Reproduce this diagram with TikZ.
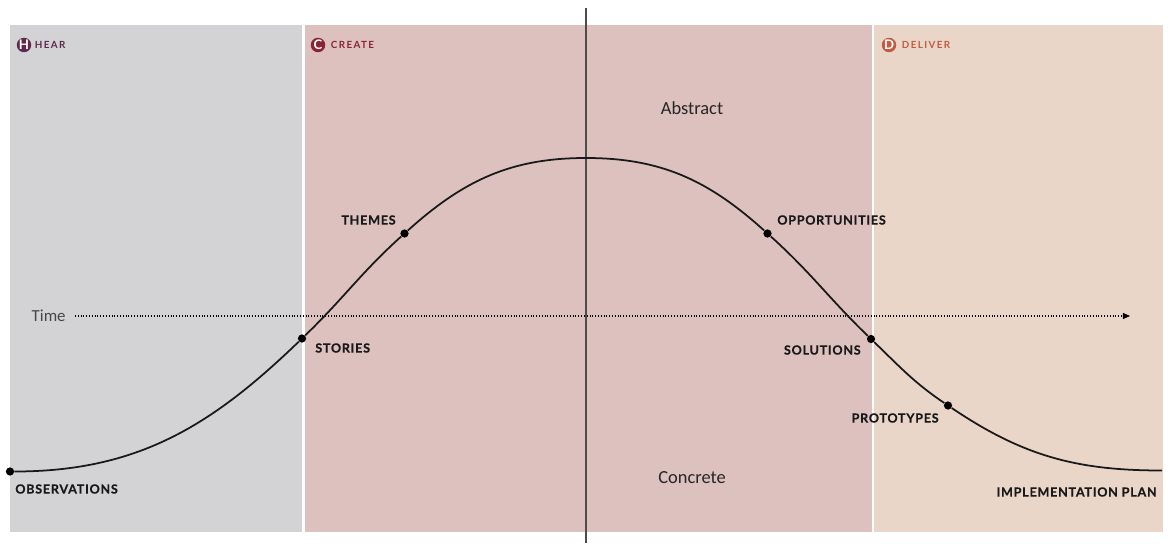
\documentclass[tikz,border=0pt]{standalone}
\usepackage{fontspec}
\setmainfont{Carlito}
\newfontfamily\tagfont[LetterSpace=6, FakeBold=0.4]{Lato}
\newfontfamily\phasefont[LetterSpace=14]{Lato}
\usetikzlibrary{arrows.meta,calc}

% panel and badge colours
\definecolor{hearbg}{HTML}{D3D3D6}
\definecolor{createbg}{HTML}{DCC1BE}
\definecolor{deliverbg}{HTML}{EAD6C9}
\definecolor{hearcol}{HTML}{5E2A4E}
\definecolor{createcol}{HTML}{8A2432}
\definecolor{delivercol}{HTML}{C45A3F}

\tikzset{
    tag/.style={font=\tagfont\bfseries\fontsize{7.15}{8}\selectfont, inner sep=0pt, text=black!90},
    dot/.style={circle, fill=black, minimum size=1.65mm, inner sep=0pt},
    badge/.style={circle, fill=#1, text=white, minimum size=2.9mm, inner sep=0pt,
        font=\phasefont\bfseries\fontsize{7.5}{7.5}\selectfont},
    phase/.style={text=#1, anchor=west, inner sep=0pt,
        font=\phasefont\bfseries\fontsize{5.6}{6}\selectfont},
    level/.style={font=\fontsize{10.5}{12}\selectfont, text=black!85},
    curve/.style={line width=1pt, black!90},
}

\begin{document}
\begin{tikzpicture}[x=0.2mm, y=0.2mm]
    \useasboundingbox (0,0) rectangle (1168,543);

    % three phase panels
    \fill[hearbg]    (10,11)    rectangle (302,518);
    \fill[createbg]  (304.5,11) rectangle (871.5,518);
    \fill[deliverbg] (873.5,11) rectangle (1163,518);

    % phase badges
    \node[badge=hearcol] (h) at (24,498) {H};
    \node[phase=hearcol] at ($(h.east)+(3,0)$) {HEAR};
    \node[badge=createcol] (c) at (318,498) {C};
    \node[phase=createcol] at ($(c.east)+(5,0)$) {CREATE};
    \node[badge=delivercol] (d) at (889,498) {D};
    \node[phase=delivercol] at ($(d.east)+(5,0)$) {DELIVER};

    % abstract / concrete axis
    \draw[line width=0.8pt, black!70] (586,0) -- (586,535);
    \node[level] (abstract) at (692,435) {Abstract};
    \node[level] (concrete) at (692,65) {Concrete};

    % time axis
    \node[level, font=\fontsize{9.6}{11}\selectfont, text=black!72, anchor=east, inner sep=0pt]
        (time) at (66,227) {Time};
    \coordinate (timeend) at (1130,227);
    \draw[line width=0.6pt, dash pattern=on 0.5pt off 1.1pt,
          -{Triangle[length=4pt, width=3.4pt]}]
        ($(time.east)+(9,0)$) -- (timeend);

    % points on the curve
    \node[dot] (obs)    at (10,71.5) {};
    \node[dot] (stories) at (302,204.5) {};
    \node[dot] (themes) at (404.5,309.5) {};
    \coordinate (peak)  at (586,385);
    \node[dot] (opps)   at (767.5,309.5) {};
    \node[dot] (sols)   at (871,204) {};
    \node[dot] (protos) at (948,137.5) {};
    \coordinate (impl)  at (1162,72.5);

    \draw[curve] (obs) to[out=0, in=224] (stories)
        to[out=44, in=222] (themes)
        to[out=42, in=180] (peak)
        to[out=0, in=138] (opps)
        to[out=-42, in=136] (sols)
        to[out=-44, in=146] (protos)
        to[out=-34, in=180] (impl);

    % labels next to the points
    \node[tag, anchor=west] at ($(obs)+(5,-17.5)$) {OBSERVATIONS};
    \node[tag, anchor=west] at ($(stories)+(13,-9.5)$) {STORIES};
    \node[tag, anchor=east] at ($(themes)+(-8.5,13.5)$) {THEMES};
    \node[tag, anchor=west] at ($(opps)+(9.5,13.5)$) {OPPORTUNITIES};
    \node[tag, anchor=east] at ($(sols)+(-10,-11)$) {SOLUTIONS};
    \node[tag, anchor=east] at ($(protos)+(-9,-12.5)$) {PROTOTYPES};
    \node[tag, anchor=east] at ($(impl)+(-5,-21.5)$) {IMPLEMENTATION PLAN};
\end{tikzpicture}
\end{document}
